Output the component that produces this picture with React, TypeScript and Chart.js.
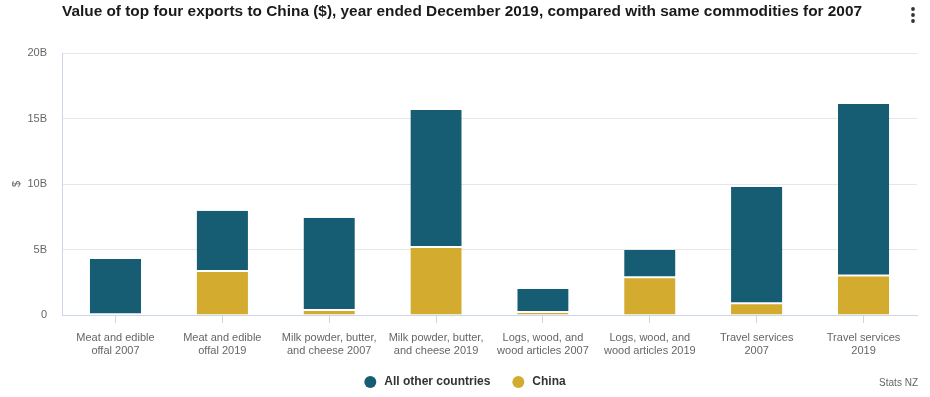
import React, { useEffect, useRef } from "react";
import { Chart, registerables } from "chart.js";

Chart.register(...registerables);

const categories: string[][] = [
  ["Meat and edible", "offal 2007"],
  ["Meat and edible", "offal 2019"],
  ["Milk powder, butter,", "and cheese 2007"],
  ["Milk powder, butter,", "and cheese 2019"],
  ["Logs, wood, and", "wood articles 2007"],
  ["Logs, wood, and", "wood articles 2019"],
  ["Travel services", "2007"],
  ["Travel services", "2019"],
];

// billions of NZ$
const chinaValues = [0.05, 3.36, 0.38, 5.2, 0.22, 2.88, 0.9, 3.02];
const otherValues = [4.22, 4.6, 7.05, 10.45, 1.76, 2.08, 8.88, 13.08];

const yTicks = [0, 5, 10, 15, 20];
const titleText =
  "Value of top four exports to China ($), year ended December 2019, compared with same commodities for 2007";
const creditText = "Stats NZ";

const TEAL = "#165c73";
const GOLD = "#d3ab2f";
const FONT = "'Liberation Sans', Arial, sans-serif";

const extrasPlugin = {
  id: "extras",
  afterDraw(chart: any) {
    const ctx = chart.ctx;
    const area = chart.chartArea;
    ctx.save();
    ctx.font = `bold 15px ${FONT}`;
    ctx.fillStyle = "#1a1a1a";
    ctx.textBaseline = "middle";
    ctx.textAlign = "left";
    const w = ctx.measureText(titleText).width;
    const target = 800;
    ctx.translate(area.left, 12);
    ctx.scale(target / w, 1);
    ctx.fillText(titleText, 0, 0);
    ctx.restore();

    ctx.save();
    ctx.fillStyle = "#333";
    [9, 15, 21].forEach((y) => {
      ctx.beginPath();
      ctx.arc(913, y, 1.9, 0, Math.PI * 2);
      ctx.fill();
    });
    ctx.font = `10px ${FONT}`;
    ctx.fillStyle = "#666";
    ctx.textAlign = "right";
    ctx.textBaseline = "middle";
    ctx.fillText(creditText, 918, 383);
    ctx.restore();

    // legend (in legend order: reversed datasets)
    ctx.save();
    ctx.font = `bold 12px ${FONT}`;
    ctx.textAlign = "left";
    ctx.textBaseline = "middle";
    const ds = chart.data.datasets.slice().reverse();
    const gap = 14;
    const itemGap = 22;
    const widths = ds.map((d: any) => 12 + gap - 6 + ctx.measureText(d.label).width);
    const total = widths.reduce((a: number, b: number) => a + b, 0) + itemGap * (ds.length - 1);
    let x = 465 - total / 2;
    const y = 382;
    ds.forEach((d: any, i: number) => {
      ctx.fillStyle = d.backgroundColor;
      ctx.beginPath();
      ctx.arc(x + 6, y, 6, 0, Math.PI * 2);
      ctx.fill();
      ctx.fillStyle = "#333";
      ctx.fillText(d.label, x + 6 + gap, y);
      x += widths[i] + itemGap;
    });
    ctx.restore();
  },
};

export default function App() {
  const ref = useRef<HTMLCanvasElement | null>(null);
  useEffect(() => {
    document.body.style.margin = "0";
    if (!ref.current) return;
    const chart = new Chart(ref.current, {
      type: "bar",
      data: {
        labels: categories,
        datasets: [
          {
            label: "China",
            data: chinaValues,
            backgroundColor: GOLD,
            borderColor: "#ffffff",
            borderWidth: { top: 1, bottom: 0, left: 0, right: 0 },
            borderSkipped: false,
            barPercentage: 0.48,
            categoryPercentage: 1,
          },
          {
            label: "All other countries",
            data: otherValues,
            backgroundColor: TEAL,
            borderColor: "#ffffff",
            borderWidth: { top: 0, bottom: 1, left: 0, right: 0 },
            borderSkipped: false,
            barPercentage: 0.48,
            categoryPercentage: 1,
          },
        ],
      },
      options: {
        animation: false,
        responsive: false,
        maintainAspectRatio: false,
        layout: { padding: { top: 53, left: 0, right: 13, bottom: 42 } },
        plugins: {
          title: { display: false },
          tooltip: { enabled: false },
          legend: { display: false },
        },
        scales: {
          x: {
            stacked: true,
            afterFit: (s: any) => {
              s.height = 40;
            },
            grid: {
              display: true,
              drawOnChartArea: false,
              drawTicks: true,
              tickLength: 8,
              color: "#ccd6eb",
              offset: false,
            },
            border: { display: true, color: "#ccd6eb" },
            ticks: {
              color: "#666",
              padding: 8,
              maxRotation: 0,
              autoSkip: false,
              font: { family: FONT, size: 11 },
            },
          },
          y: {
            stacked: true,
            min: 0,
            max: 20,
            afterFit: (s: any) => {
              s.width = 62;
            },
            afterBuildTicks: (s: any) => {
              s.ticks = yTicks.map((v) => ({ value: v }));
            },
            grid: { color: "#e6e6e6", drawTicks: false },
            border: { display: true, color: "#ccd6eb" },
            title: {
              display: true,
              text: "$",
              color: "#666",
              padding: { top: 10, bottom: 0 },
              font: { family: FONT, size: 11 },
            },
            ticks: {
              color: "#666",
              padding: 15,
              font: { family: FONT, size: 11 },
              callback: (v: any) => (Number(v) === 0 ? "0" : `${v}B`),
            },
          },
        },
      },
      plugins: [extrasPlugin],
    });
    return () => chart.destroy();
  }, []);
  return (
    <div style={{ width: 930, height: 397, background: "#fff" }}>
      <canvas ref={ref} width={930} height={397} style={{ display: "block" }} />
    </div>
  );
}
